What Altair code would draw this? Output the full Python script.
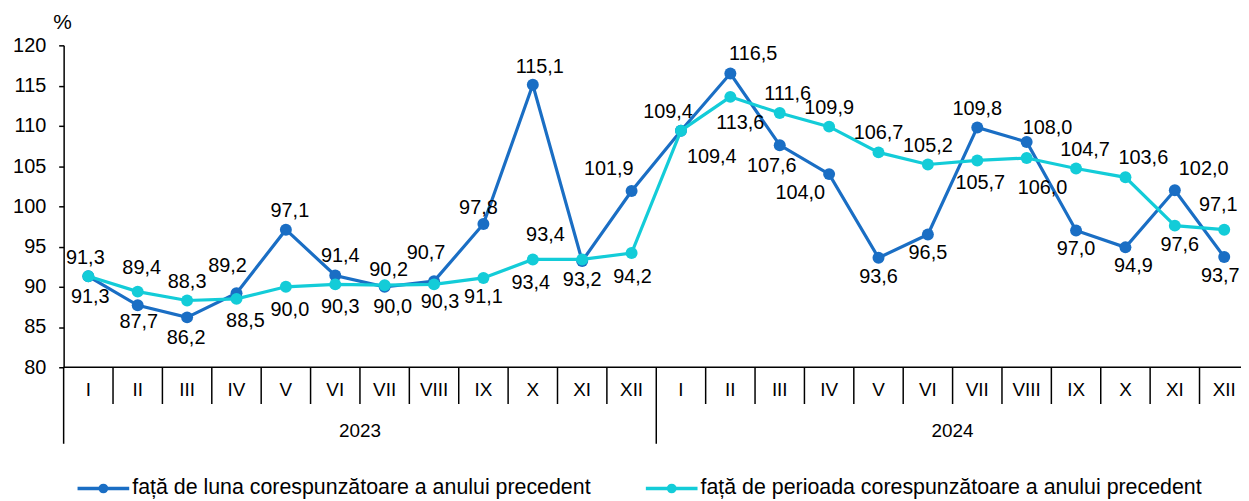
import altair as alt
import pandas as pd

# ---- data ----
months = ["I", "II", "III", "IV", "V", "VI", "VII", "VIII", "IX", "X", "XI", "XII"] * 2
years = ["2023"] * 12 + ["2024"] * 12
luna = [91.3, 87.7, 86.2, 89.2, 97.1, 91.4, 90.0, 90.7, 97.8, 115.1, 93.2, 101.9,
        109.4, 116.5, 107.6, 104.0, 93.6, 96.5, 109.8, 108.0, 97.0, 94.9, 102.0, 93.7]
perioada = [91.3, 89.4, 88.3, 88.5, 90.0, 90.3, 90.2, 90.3, 91.1, 93.4, 93.4, 94.2,
            109.4, 113.6, 111.6, 109.9, 106.7, 105.2, 105.7, 106.0, 104.7, 103.6, 97.6, 97.1]
name_luna = "față de luna corespunzătoare a anului precedent"
name_per = "față de perioada corespunzătoare a anului precedent"

DARK = "#1A6EC4"
CYAN = "#13CCD8"
FONT = "Liberation Sans"
W, H = 1185, 324
XMIN, XMAX, YMIN, YMAX = -0.5, 23.34, 80, 120
PX_X = W / (XMAX - XMIN)   # pixels per category
PX_Y = H / (YMAX - YMIN)   # pixels per unit

# label layout nudges (pixels): (dx, dy) overriding the default placement
nudge = {
    ("L", 3): (-9, -27), ("L", 7): (-8, -28), ("L", 8): (-5, -16), ("L", 9): (7, -18),
    ("L", 6): (8, 20), ("L", 11): (-23, -22), ("L", 12): (31, 27), ("L", 13): (23, -20),
    ("L", 14): (-8, 21), ("L", 15): (-29, 19), ("L", 19): (21, -14), ("L", 21): (8, 19),
    ("L", 22): (29, -21), ("L", 23): (-4, 19), ("L", 4): (4, -19), ("L", 5): (5, -20),
    ("L", 0): (2, 21), ("L", 1): (1, 17), ("L", 2): (-1, 21),
    ("P", 1): (4, -24), ("P", 3): (9, 22), ("P", 6): (4, -15), ("P", 7): (6, 18),
    ("P", 10): (-37, -25), ("P", 12): (-13, -19), ("P", 13): (10, 26), ("P", 14): (8, -19),
    ("P", 18): (3, 23), ("P", 19): (16, 30), ("P", 20): (9, -19), ("P", 21): (18, -19),
    ("P", 22): (5, 20), ("P", 23): (-6, -25), ("P", 4): (4, 23), ("P", 5): (5, 23),
    ("P", 0): (-3, -18), ("P", 9): (-2, 24), ("P", 11): (1, 24),
}

n = len(months)
base = pd.DataFrame({"i": list(range(n)), "month": months, "year": years})

rows = []
for k in range(n):
    for key, name, vals, other in [("L", name_luna, luna, perioada), ("P", name_per, perioada, luna)]:
        v, o = vals[k], other[k]
        above = (v > o) or (v == o and key == "P")
        dx, dy = nudge.get((key, k), (0, -19 if above else 19))
        rows.append({"i": k, "series": name, "value": v,
                     "label": f"{v:.1f}".replace(".", ","),
                     "lx": k + dx / PX_X, "ly": v - dy / PX_Y})
pts = pd.DataFrame(rows)

# separators
month_sep = pd.DataFrame({"b": [k + 0.5 for k in range(n - 1) if years[k] == years[k + 1]]})
year_sep = pd.DataFrame({"b": [-0.5] + [k + 0.5 for k in range(n - 1) if years[k] != years[k + 1]] + [n - 0.5]})
year_lab = base.groupby("year", as_index=False)["i"].mean()

xscale = alt.Scale(domain=[XMIN, XMAX], nice=False, zero=False)
yscale = alt.Scale(domain=[YMIN, YMAX], nice=False, zero=False)
yaxis = alt.Axis(values=list(range(80, 121, 5)), title=None, grid=False,
                 domainColor="black", domainWidth=1.5, tickColor="black", tickWidth=1.5,
                 tickSize=5, labelFontSize=20, labelColor="black", labelFont=FONT,
                 labelPadding=13)
X = alt.X("i:Q", scale=xscale, axis=None)
Y = alt.Y("value:Q", scale=yscale, axis=yaxis)

one = pd.DataFrame({"a": [0]})

xaxis_line = alt.Chart(one).mark_rule(color="black", strokeWidth=1.5).encode(
    x=alt.value(0), x2=alt.value(W), y=alt.value(H))
msep = alt.Chart(month_sep).mark_rule(color="black", strokeWidth=1.5).encode(
    x=alt.X("b:Q", scale=xscale, axis=None), y=alt.value(H), y2=alt.value(H + 37))
ysep = alt.Chart(year_sep).mark_rule(color="black", strokeWidth=1.5).encode(
    x=alt.X("b:Q", scale=xscale, axis=None), y=alt.value(H), y2=alt.value(H + 77))
mtext = alt.Chart(base).mark_text(fontSize=19, font=FONT, color="black", baseline="middle").encode(
    x=X, y=alt.value(H + 23), text="month:N")
ytext = alt.Chart(year_lab).mark_text(fontSize=19, font=FONT, color="black", baseline="middle").encode(
    x=X, y=alt.value(H + 64), text="year:N")
pct = alt.Chart(one).mark_text(fontSize=21, font=FONT, color="black", baseline="middle").encode(
    x=alt.value(-1), y=alt.value(-22), text=alt.value("%"))

layers = [xaxis_line, msep, ysep, mtext, ytext, pct]
for name, color in [(name_luna, DARK), (name_per, CYAN)]:
    d = pts[pts["series"] == name]
    layers.append(alt.Chart(d).mark_line(color=color, strokeWidth=3.2).encode(x=X, y=Y))
    layers.append(alt.Chart(d).mark_circle(color=color, size=145, opacity=1).encode(x=X, y=Y))

labels = alt.Chart(pts).mark_text(fontSize=20, font=FONT, color="black", baseline="middle").encode(
    x=alt.X("lx:Q", scale=xscale, axis=None),
    y=alt.Y("ly:Q", scale=yscale, axis=yaxis),
    text="label:N")
layers.append(labels)

# legend
for name, color, x0 in [(name_luna, DARK, 14), (name_per, CYAN, 586)]:
    ld = pd.DataFrame({"series": [name]})
    layers.append(alt.Chart(ld).mark_rule(color=color, strokeWidth=3.5).encode(
        x=alt.value(x0), x2=alt.value(x0 + 52), y=alt.value(446)))
    layers.append(alt.Chart(ld).mark_circle(color=color, size=95, opacity=1).encode(
        x=alt.value(x0 + 26), y=alt.value(446)))
    layers.append(alt.Chart(ld).mark_text(align="left", baseline="middle", fontSize=21.5,
                                          font=FONT, color="black").encode(
        x=alt.value(x0 + 55), y=alt.value(446), text="series:N"))

chart = alt.layer(*layers).properties(
    width=W, height=H,
    autosize=alt.AutoSizeParams(type="none"),
    padding={"left": 56, "top": 36, "right": 0, "bottom": 133},
).configure_view(stroke=None)

chart.save("out.html", embed_options={"renderer": "svg", "actions": False})
